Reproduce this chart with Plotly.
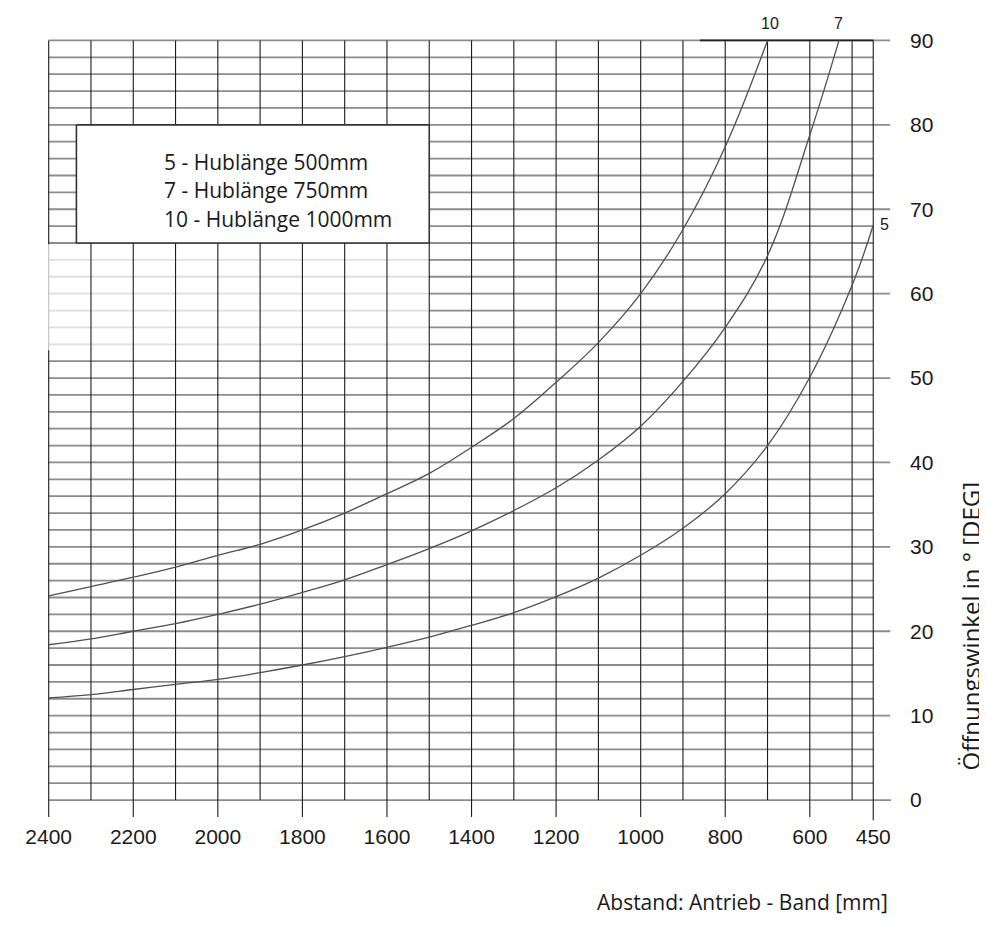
import plotly.graph_objects as go

# ---------------- data ----------------
curve10_x = [2400, 2300, 2200, 2100, 2000, 1900, 1800, 1700, 1600, 1500, 1400, 1300, 1200, 1100, 1000, 900, 800, 700]
curve10_y = [24.2, 25.3, 26.4, 27.6, 29.0, 30.3, 32.0, 34.0, 36.3, 38.7, 41.8, 45.2, 49.5, 54.2, 60.0, 67.6, 77.4, 90.0]

curve7_x = [2400, 2300, 2200, 2100, 2000, 1900, 1800, 1700, 1600, 1500, 1400, 1300, 1200, 1100, 1000, 900, 800, 700, 600, 531]
curve7_y = [18.4, 19.1, 20.0, 20.9, 22.0, 23.2, 24.6, 26.1, 27.9, 29.8, 31.9, 34.3, 37.0, 40.3, 44.3, 49.6, 56.0, 64.5, 78.8, 90.0]

curve5_x = [2400, 2300, 2200, 2100, 2000, 1900, 1800, 1700, 1600, 1500, 1400, 1300, 1200, 1100, 1000, 900, 800, 700, 600, 500, 450]
curve5_y = [12.1, 12.5, 13.1, 13.7, 14.3, 15.1, 16.0, 17.0, 18.1, 19.3, 20.7, 22.2, 24.1, 26.3, 29.0, 32.2, 36.3, 42.0, 50.1, 61.0, 68.1]

curve_labels = ["10", "7", "5"]
legend_lines = ["5 - Hublänge 500mm", "7 - Hublänge 750mm", "10 - Hublänge 1000mm"]

x_tick_vals = [2400, 2200, 2000, 1800, 1600, 1400, 1200, 1000, 800, 600, 450]
x_tick_text = ["2400", "2200", "2000", "1800", "1600", "1400", "1200", "1000", "800", "600", "450"]
y_tick_vals = [0, 10, 20, 30, 40, 50, 60, 70, 80, 90]
y_tick_text = ["0", "10", "20", "30", "40", "50", "60", "70", "80", "90"]

grid_x_lines = list(range(2400, 499, -100)) + [450]
grid_y_lines = list(range(0, 91, 2))

x_title = "Abstand: Antrieb - Band [mm]"
y_title = "Öffnungswinkel in ° [DEG]"

# ---------------- geometry ----------------
OFF = 8                      # page body margin
W, H = 987 - OFF, 930 - OFF
KX = 824 / 1950.0   # px per mm
KY = 760 / 90.0     # px per degree
X_LEFT, X_RIGHT = 2404, 408
Y_BOT, Y_TOP = -2.6, 91
ml = 49 - OFF - (X_LEFT - 2400) * KX
pw = (X_LEFT - X_RIGHT) * KX
mr = W - ml - pw
mt = 40 - OFF - (Y_TOP - 90) * KY
ph = (Y_TOP - Y_BOT) * KY
mb = H - mt - ph

HGRID = "rgb(140,140,140)"
VGRID = "#1c1c1c"
CURVE = "#505050"
TXT = "#1a1a1a"
TEXT_FONT = "Open Sans"
NUM_FONT = "Liberation Sans"

fig = go.Figure()

# horizontal grid lines (major ones extend to the right as ticks)
hx, hy = [], []
for v in grid_y_lines:
    right = 450
    if v % 10 == 0:
        right = 410
    if v == 0:
        right = 404
    hx += [2400, right, None]
    hy += [v, v, None]
fig.add_trace(go.Scatter(x=hx, y=hy, mode="lines", line=dict(color=HGRID, width=1.8), hoverinfo="skip"))

# left border line (faded with the overlay below)
fig.add_trace(go.Scatter(x=[2400, 2400], y=[90, -2], mode="lines", line=dict(color=VGRID, width=1.1), hoverinfo="skip"))

# faded band under the legend box
fig.add_trace(go.Scatter(x=[2403, 1500, 1500, 2403, 2403], y=[65.85, 65.85, 53.3, 53.3, 65.85],
                         mode="lines", fill="toself", fillcolor="rgba(255,255,255,0.72)",
                         line=dict(width=0), hoverinfo="skip"))

# vertical grid lines
vx, vy = [], []
for v in grid_x_lines:
    if v == 2400:
        continue
    bottom = 0
    if v % 200 == 0:
        bottom = -2
    if v == 450:
        bottom = -2.4
    vx += [v, v, None]
    vy += [90, bottom, None]
fig.add_trace(go.Scatter(x=vx, y=vy, mode="lines", line=dict(color=VGRID, width=1.1), hoverinfo="skip"))

# darker top border on the right
fig.add_trace(go.Scatter(x=[860, 450], y=[90, 90], mode="lines", line=dict(color="#222", width=1.8), hoverinfo="skip"))

# legend box
fig.add_trace(go.Scatter(x=[2334.5, 1500, 1500, 2334.5, 2334.5], y=[80, 80, 66, 66, 80],
                         mode="lines", fill="toself", fillcolor="white",
                         line=dict(color="#333", width=1.6), hoverinfo="skip"))

# curves
for cx, cy in [(curve10_x, curve10_y), (curve7_x, curve7_y), (curve5_x, curve5_y)]:
    fig.add_trace(go.Scatter(x=cx, y=cy, mode="lines",
                             line=dict(color=CURVE, width=1.3, shape="spline", smoothing=1.1),
                             hoverinfo="skip"))

annotations = []
# curve labels
ends = [(curve10_x[-1], curve10_y[-1], 2, 17), (curve7_x[-1], curve7_y[-1], 0, 17), (curve5_x[-1], curve5_y[-1], 11, 1)]
for lab, (ex, ey, dx, dy) in zip(curve_labels, ends):
    annotations.append(dict(x=ex, y=ey, xref="x", yref="y", text=lab, showarrow=False,
                            xshift=dx, yshift=dy, font=dict(family=NUM_FONT, size=16, color=TXT)))
# legend text
for i, line in enumerate(legend_lines):
    annotations.append(dict(x=2133, y=75.6 - i * 3.35, xref="x", yref="y", text=line, showarrow=False,
                            xanchor="left", yanchor="middle",
                            font=dict(family=TEXT_FONT, size=21, color=TXT)))
# axis titles (positions given in page pixels, converted to paper coords)
annotations.append(dict(x=(890 - OFF - ml) / pw, y=(H - (902 - OFF) - mb) / ph, xref="paper", yref="paper",
                        text=x_title, showarrow=False, xanchor="right", yanchor="middle",
                        font=dict(family=TEXT_FONT, size=21, color=TXT)))
annotations.append(dict(x=(970 - OFF - ml) / pw, y=(H - (626 - OFF) - mb) / ph, xref="paper", yref="paper",
                        text=y_title, showarrow=False, textangle=-90, xanchor="center", yanchor="middle",
                        font=dict(family=TEXT_FONT, size=24, color=TXT)))

fig.update_layout(
    width=W, height=H,
    margin=dict(l=ml, r=mr, t=mt, b=mb, pad=0, autoexpand=False),
    paper_bgcolor="white", plot_bgcolor="white",
    showlegend=False, hovermode=False,
    annotations=annotations,
    xaxis=dict(range=[X_LEFT, X_RIGHT], showgrid=False, zeroline=False, showline=False,
               tickmode="array", tickvals=x_tick_vals, ticktext=x_tick_text, ticks="",
               tickfont=dict(family=NUM_FONT, size=21, color=TXT), ticklabelstandoff=0,
               automargin=False),
    yaxis=dict(range=[Y_BOT, Y_TOP], showgrid=False, zeroline=False, showline=False, side="right",
               tickmode="array", tickvals=y_tick_vals, ticktext=y_tick_text, ticks="",
               tickfont=dict(family=NUM_FONT, size=21, color=TXT), ticklabelstandoff=18,
               automargin=False),
)

fig.write_html("out.html")
